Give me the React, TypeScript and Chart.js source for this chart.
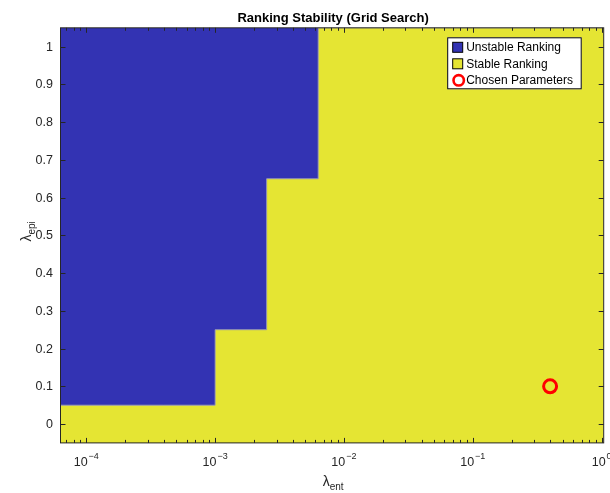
import React, { useEffect, useRef } from "react";
import { Chart, registerables } from "chart.js";

Chart.register(...registerables);

// Grid of lambda_ent values (log-spaced grid centres)
const lambdaEnt = [1e-4, 2.512e-4, 6.31e-4, 1.585e-3, 3.981e-3, 1e-2, 2.512e-2, 6.31e-2, 0.1585, 0.3981, 1];
// Grid of lambda_epi values
const lambdaEpi = [0, 0.1, 0.2, 0.3, 0.4, 0.5, 0.6, 0.7, 0.8, 0.9, 1.0];
// For each lambda_ent column: smallest lambda_epi with an unstable ranking (null = stable everywhere)
const unstableFrom: (number | null)[] = [0.1, 0.1, 0.1, 0.3, 0.7, null, null, null, null, null, null];
// Chosen parameters
const chosenEnt = [0.3981];
const chosenEpi = [0.1];

// Tick labels
const yTickValues = [0, 0.1, 0.2, 0.3, 0.4, 0.5, 0.6, 0.7, 0.8, 0.9, 1];
const yTickLabels = ["0", "0.1", "0.2", "0.3", "0.4", "0.5", "0.6", "0.7", "0.8", "0.9", "1"];
const xTickValues = [1e-4, 1e-3, 1e-2, 1e-1, 1];
const xTickExponents = ["\u22124", "\u22123", "\u22122", "\u22121", "0"];

const legendLabels = ["Unstable Ranking", "Stable Ranking", "Chosen Parameters"];

const BLUE = "#3333b3";
const YELLOW = "#e5e533";
const RED = "#ff0000";
const INK = "#262626";
const FONT = '"Liberation Sans", Arial, Helvetica, sans-serif';

function buildBoundary() {
  const logs = lambdaEnt.map((v) => Math.log10(v));
  const n = logs.length;
  const edges: number[] = [];
  edges.push(logs[0] - (logs[1] - logs[0]) / 2);
  for (let i = 0; i < n - 1; i++) edges.push((logs[i] + logs[i + 1]) / 2);
  edges.push(logs[n - 1] + (logs[n - 1] - logs[n - 2]) / 2);
  const half = (lambdaEpi[1] - lambdaEpi[0]) / 2;
  const yTop = lambdaEpi[lambdaEpi.length - 1] + half;
  const pts: { x: number; y: number }[] = [];
  for (let i = 0; i < n; i++) {
    const u = unstableFrom[i];
    const y = u === null ? yTop : u - half;
    pts.push({ x: Math.pow(10, edges[i]), y });
    pts.push({ x: Math.pow(10, edges[i + 1]), y });
  }
  return { pts, xMin: Math.pow(10, edges[0]), yMin: lambdaEpi[0] - half, yMax: yTop };
}

const matlabPlugin = {
  id: "matlabAxes",
  afterDraw(chart: any) {
    const ctx: CanvasRenderingContext2D = chart.ctx;
    const a = chart.chartArea;
    const xs = chart.scales.x;
    const ys = chart.scales.y;
    ctx.save();
    ctx.strokeStyle = INK;
    ctx.fillStyle = INK;
    ctx.lineWidth = 1;

    // ticks
    ctx.beginPath();
    yTickValues.forEach((v) => {
      const py = Math.round(ys.getPixelForValue(v)) + 0.5;
      ctx.moveTo(a.left, py);
      ctx.lineTo(a.left + 5, py);
      ctx.moveTo(a.right, py);
      ctx.lineTo(a.right - 5, py);
    });
    const minor: number[] = [];
    for (let d = 1e-5; d < 10; d *= 10) {
      for (let m = 2; m <= 9; m++) {
        const v = m * d;
        if (v >= xs.min && v <= xs.max) minor.push(v);
      }
    }
    minor.forEach((v) => {
      const px = Math.round(xs.getPixelForValue(v)) + 0.5;
      ctx.moveTo(px, a.bottom);
      ctx.lineTo(px, a.bottom - 3);
      ctx.moveTo(px, a.top);
      ctx.lineTo(px, a.top + 3);
    });
    xTickValues.forEach((v) => {
      const px = Math.round(xs.getPixelForValue(v)) + 0.5;
      ctx.moveTo(px, a.bottom);
      ctx.lineTo(px, a.bottom - 5);
      ctx.moveTo(px, a.top);
      ctx.lineTo(px, a.top + 5);
    });
    ctx.stroke();

    // box
    ctx.strokeRect(a.left, a.top, a.right - a.left, a.bottom - a.top);

    // y tick labels
    ctx.font = `12.5px ${FONT}`;
    ctx.textAlign = "right";
    ctx.textBaseline = "middle";
    yTickValues.forEach((v, i) => {
      ctx.fillText(yTickLabels[i], a.left - 7.5, ys.getPixelForValue(v) + 0.5);
    });

    // x tick labels
    ctx.textAlign = "left";
    ctx.textBaseline = "alphabetic";
    xTickValues.forEach((v, i) => {
      const px = xs.getPixelForValue(v);
      ctx.font = `12.5px ${FONT}`;
      const w1 = ctx.measureText("10").width;
      ctx.font = `9px ${FONT}`;
      const w2 = ctx.measureText(xTickExponents[i]).width;
      const start = px - (w1 + 1 + w2) / 2;
      ctx.font = `12.5px ${FONT}`;
      ctx.fillText("10", start, a.bottom + 23.5);
      ctx.font = `9px ${FONT}`;
      ctx.fillText(xTickExponents[i], start + w1 + 1, a.bottom + 16.5);
    });

    // title
    ctx.fillStyle = "#000";
    ctx.font = `bold 13px ${FONT}`;
    ctx.textAlign = "center";
    ctx.fillText("Ranking Stability (Grid Search)", (a.left + a.right) / 2 + 1, a.top - 6);

    // x axis label
    ctx.fillStyle = INK;
    ctx.textAlign = "left";
    ctx.font = `14px ${FONT}`;
    const wl = ctx.measureText("\u03bb").width;
    ctx.font = `10px ${FONT}`;
    const ws = ctx.measureText("ent").width;
    let sx = (a.left + a.right) / 2 - (wl + ws) / 2 + 1;
    ctx.font = `14px ${FONT}`;
    ctx.fillText("\u03bb", sx, a.bottom + 43);
    ctx.font = `10px ${FONT}`;
    ctx.fillText("ent", sx + wl, a.bottom + 47);

    // y axis label
    ctx.save();
    ctx.translate(31, (a.top + a.bottom) / 2 - 4);
    ctx.rotate(-Math.PI / 2);
    ctx.font = `14px ${FONT}`;
    const wl2 = ctx.measureText("\u03bb").width;
    ctx.font = `10px ${FONT}`;
    const ws2 = ctx.measureText("epi").width;
    const sy = -(wl2 + ws2) / 2;
    ctx.font = `14px ${FONT}`;
    ctx.fillText("\u03bb", sy, 0);
    ctx.font = `10px ${FONT}`;
    ctx.fillText("epi", sy + wl2, 4);
    ctx.restore();

    // legend
    const lx = a.right - 156.5;
    const ly = a.top + 9.5;
    const lw = 134.5;
    const lh = 52;
    ctx.fillStyle = "#ffffff";
    ctx.fillRect(lx, ly, lw, lh);
    ctx.strokeStyle = "#000";
    ctx.lineWidth = 1;
    ctx.strokeRect(lx + 0.5, ly + 0.5, lw - 1, lh - 1);
    const rowY = [ly + 10, ly + 26.5, ly + 43];
    ctx.fillStyle = BLUE;
    ctx.fillRect(lx + 5.5, rowY[0] - 5, 10, 10);
    ctx.strokeRect(lx + 5.5, rowY[0] - 5, 10, 10);
    ctx.fillStyle = YELLOW;
    ctx.fillRect(lx + 5.5, rowY[1] - 5, 10, 10);
    ctx.strokeRect(lx + 5.5, rowY[1] - 5, 10, 10);
    ctx.strokeStyle = RED;
    ctx.lineWidth = 2.6;
    ctx.beginPath();
    ctx.arc(lx + 11.5, rowY[2], 5.2, 0, Math.PI * 2);
    ctx.stroke();
    ctx.fillStyle = "#000";
    ctx.font = `12px ${FONT}`;
    ctx.textAlign = "left";
    ctx.textBaseline = "middle";
    legendLabels.forEach((t, i) => ctx.fillText(t, lx + 19, rowY[i] + 0.5));

    ctx.restore();
  },
};

export default function App() {
  const ref = useRef<HTMLCanvasElement | null>(null);
  useEffect(() => {
    if (!ref.current) return;
    const b = buildBoundary();
    const chart = new Chart(ref.current, {
      type: "scatter",
      data: {
        datasets: [
          {
            label: "Chosen Parameters",
            data: chosenEnt.map((x, i) => ({ x, y: chosenEpi[i] })),
            pointRadius: 6.5,
            pointBorderWidth: 3,
            pointBorderColor: RED,
            pointBackgroundColor: "rgba(0,0,0,0)",
            showLine: false,
            order: 0,
          } as any,
          {
            label: "Unstable Ranking",
            data: b.pts,
            showLine: true,
            pointRadius: 0,
            borderColor: "rgba(150,150,175,0.9)",
            borderWidth: 1,
            backgroundColor: BLUE,
            fill: "end",
            tension: 0,
            clip: 0,
            order: 1,
          } as any,
          {
            label: "Stable Ranking",
            data: b.pts,
            showLine: true,
            pointRadius: 0,
            borderWidth: 0,
            borderColor: "rgba(0,0,0,0)",
            backgroundColor: YELLOW,
            fill: "start",
            tension: 0,
            clip: 0,
            order: 2,
          } as any,
        ],
      },
      options: {
        animation: false,
        responsive: false,
        events: [],
        layout: { autoPadding: false, padding: { left: 60.5, top: 27.8, right: 6.3, bottom: 50.1 } },
        scales: {
          x: { type: "logarithmic", min: b.xMin, max: Math.pow(10, 0.016), display: false },
          y: { type: "linear", min: b.yMin, max: b.yMax, display: false },
        },
        plugins: {
          legend: { display: false },
          tooltip: { enabled: false },
          title: { display: false },
        },
      },
      plugins: [matlabPlugin],
    } as any);
    return () => chart.destroy();
  }, []);
  return (
    <div style={{ position: "fixed", left: 0, top: 0, width: 610, height: 493, background: "#fff" }}>
      <canvas ref={ref} width={610} height={493} style={{ display: "block" }} />
    </div>
  );
}
